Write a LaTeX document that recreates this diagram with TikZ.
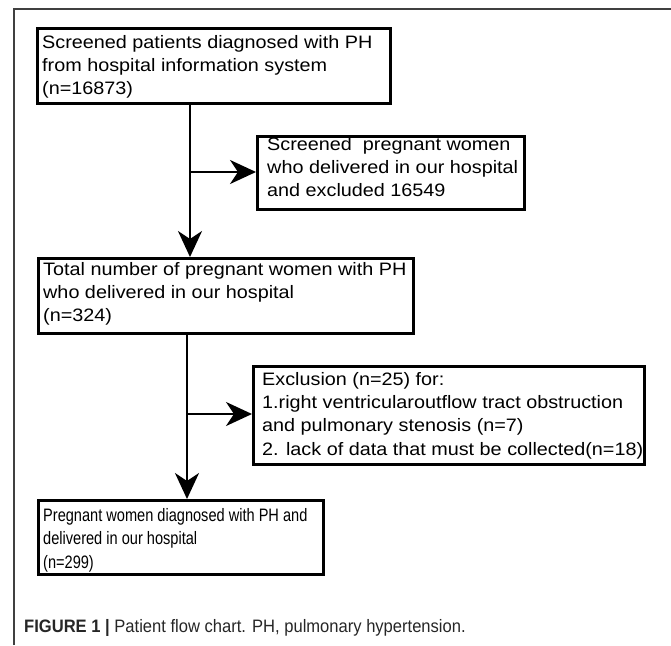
\documentclass[tikz,border=0pt]{standalone}
\usepackage{fontspec}
\setmainfont{Liberation Sans}
\usepackage{graphicx}
\usetikzlibrary{arrows.meta}
\newcommand{\bxtext}[2]{\scalebox{#1}[1]{\begin{tabular}{@{}l@{}}#2\end{tabular}}}
\begin{document}
\begin{tikzpicture}[x=1pt,y=-1pt,
  box/.style={draw=black, line width=2.8pt, anchor=north west, inner sep=0pt},
  lbl/.style={anchor=north west, inner sep=0pt,
    font=\fontsize{18}{23.3}\selectfont},
  conn/.style={draw=black, line width=2.6pt,
    -{Stealth[length=26pt,width=24pt,inset=8pt]}},
  frameline/.style={draw=black!75, line width=1.3pt}]
\useasboundingbox (0,0) rectangle (671,645);
\draw[frameline] (14,645) -- (14,9) -- (671,9);
% boxes
\node[box, minimum width=353pt, minimum height=75pt] (b1) at (36,27) {};
\node[box, minimum width=267pt, minimum height=73pt] (b2) at (256,135) {};
\node[box, minimum width=375pt, minimum height=75pt] (b3) at (37,257) {};
\node[box, minimum width=391pt, minimum height=98pt] (b4) at (252,365) {};
\node[box, minimum width=285pt, minimum height=74pt] (b5) at (37,499) {};
% texts (first baseline minus strut height)
\node[lbl] (t1) at (42,31.7)
  {\bxtext{1.1}{Screened patients diagnosed with PH\\from hospital information system\\(n=16873)}};
\node[lbl] (t2) at (267,133.7)
  {\bxtext{1.1}{Screened\ \ pregnant women\\who delivered in our hospital\\and excluded 16549}};
\node[lbl] (t3) at (43,258.7)
  {\bxtext{1.1}{Total number of pregnant women with PH\\who delivered in our hospital\\(n=324)}};
\node[lbl] (t4) at (262,368.7)
  {\bxtext{1.1}{Exclusion (n=25) for:\\1.right ventricularoutflow tract obstruction\\and pulmonary stenosis (n=7)\\2. lack of data that must be collected(n=18)}};
\node[lbl, font=\fontsize{18}{23.5}\selectfont] (t5) at (43,504.5)
  {\bxtext{0.81}{Pregnant women diagnosed with PH and\\delivered in our hospital\\(n=299)}};
% connectors
\coordinate (j1) at (190,172);
\coordinate (j2) at (187,414);
\draw[conn] (j1 |- b1.south) -- (j1 |- b3.north);
\draw[conn] (j1) -- (j1 -| b2.west);
\draw[conn] (j2 |- b3.south) -- (j2 |- b5.north);
\draw[conn] (j2) -- (j2 -| b4.west);
% caption
\node[anchor=base west, inner sep=0pt, text=black!85] (cap) at (24,632)
  {\scalebox{0.92}[1]{\fontsize{18}{22}\selectfont\textbf{FIGURE 1 |} Patient flow chart. PH, pulmonary hypertension.}};
\end{tikzpicture}
\end{document}
